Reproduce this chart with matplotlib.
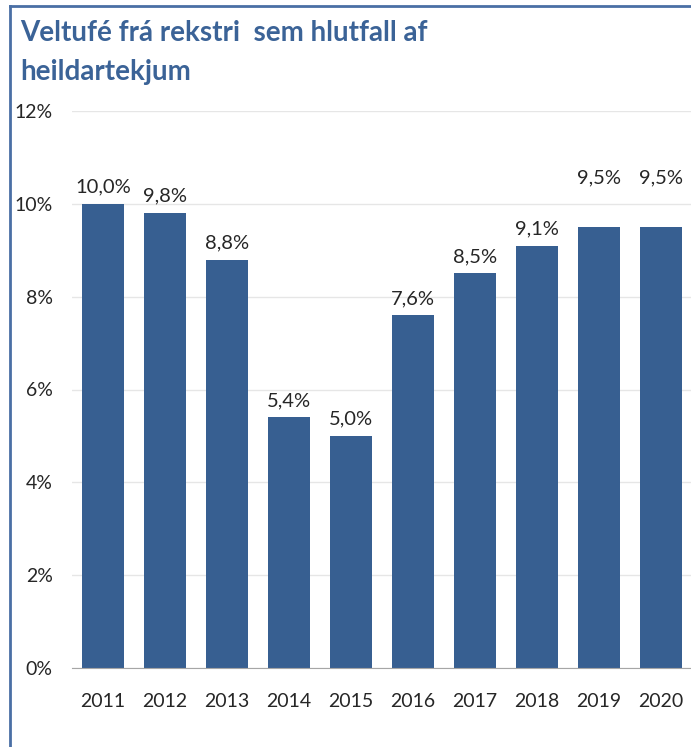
import matplotlib.pyplot as plt
from matplotlib.lines import Line2D

# Data
years = ['2011', '2012', '2013', '2014', '2015', '2016', '2017', '2018', '2019', '2020']
values = [10.0, 9.8, 8.8, 5.4, 5.0, 7.6, 8.5, 9.1, 9.5, 9.5]
labels = ['10,0%', '9,8%', '8,8%', '5,4%', '5,0%', '7,6%', '8,5%', '9,1%', '9,5%', '9,5%']

bar_color = '#375F91'
title_color = '#3B6397'
plt.rcParams['font.family'] = ['Lato', 'DejaVu Sans']

fig = plt.figure(figsize=(6.91, 7.47), dpi=100)
ax = fig.add_axes([72 / 691, (747 - 668) / 747, 620 / 691, (668 - 111) / 747])

x = range(len(years))
ax.bar(x, values, width=0.68, color=bar_color, zorder=2)

# data labels (last two sit higher, as in the original)
for i, (v, lab) in enumerate(zip(values, labels)):
    off = 6 if i < 8 else 29
    ax.annotate(lab, (i, v), xytext=(0, off), textcoords='offset points',
                ha='center', va='bottom', fontsize=14.5, color='#262626')

ax.set_xlim(-0.5, len(years) - 0.5)
ax.set_ylim(0, 12)
ax.set_yticks(range(0, 13, 2))
ax.set_yticklabels([f'{t}%' for t in range(0, 13, 2)])
ax.set_xticks(list(x))
ax.set_xticklabels(years)
ax.tick_params(length=0, labelsize=14, colors='#262626')
ax.tick_params(axis='x', pad=18)
ax.tick_params(axis='y', pad=14)
ax.grid(axis='y', color='#E6E6E6', linewidth=1, zorder=0)
for s in ['top', 'right', 'left']:
    ax.spines[s].set_visible(False)
ax.spines['bottom'].set_color('#A6A6A6')
ax.spines['bottom'].set_zorder(3)

fig.text(20 / 691, 1 - 20 / 747, 'Veltufé frá rekstri  sem hlutfall af\nheildartekjum',
         ha='left', va='top', fontsize=20, fontweight='bold', color=title_color,
         linespacing=1.6)

# frame lines at left and top
fig.add_artist(Line2D([10 / 691, 10 / 691], [0, 1 - 6 / 747], transform=fig.transFigure,
                      color='#4A6FA5', linewidth=2))
fig.add_artist(Line2D([10 / 691, 1], [1 - 6 / 747, 1 - 6 / 747], transform=fig.transFigure,
                      color='#4A6FA5', linewidth=2))

fig.savefig('out.png', dpi=100)
